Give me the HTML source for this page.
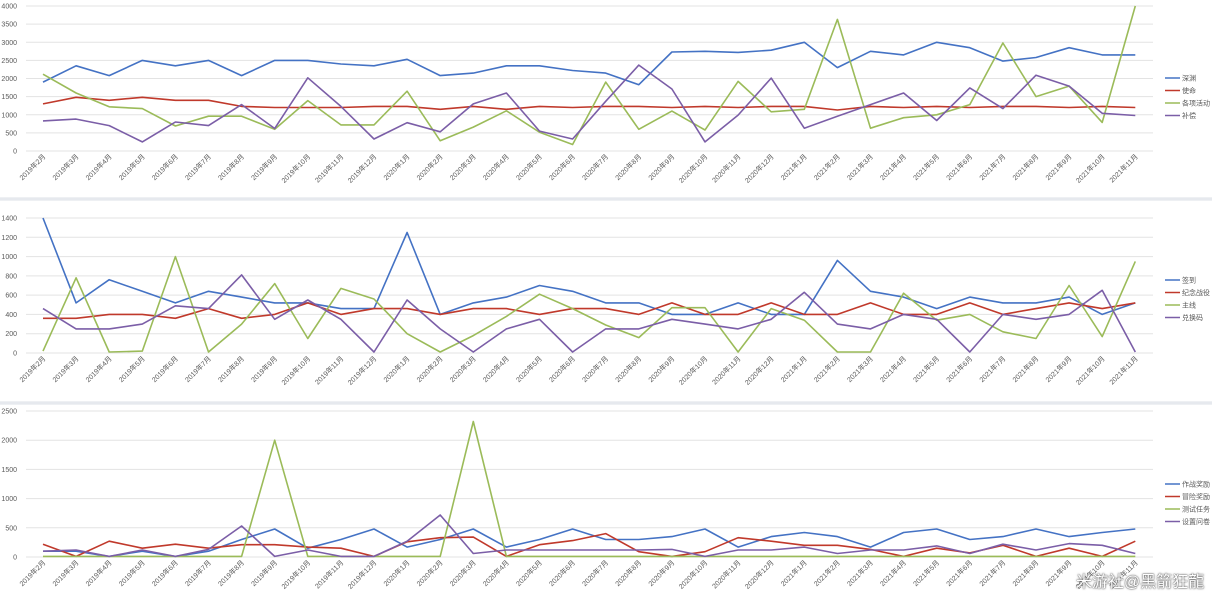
<!DOCTYPE html>
<html><head><meta charset="utf-8"><style>
body{margin:0;width:1212px;height:600px;background:#fff;overflow:hidden;font-family:"Liberation Sans","Noto Sans CJK SC",sans-serif}
svg{position:absolute;left:0;top:0}
.wm{position:absolute;left:1076px;top:568px;font-size:16px;color:#fff;text-shadow:0 0 2px #555,0 0 1px #333;font-family:"Liberation Sans","Noto Sans CJK SC",sans-serif}
</style></head><body>
<svg id="s" width="1212" height="600" xmlns="http://www.w3.org/2000/svg"></svg>
<div class="wm">米游社@黑箭狂龍</div>
<script>
const C=['#4472c4','#c0392b','#9bbb59','#7b5ea7'];
const charts=[
{top:6,bot:151,max:4000,step:500,leg:['深渊','使命','各项活动','补偿'],ly:78,data:[
[1900,2350,2080,2500,2350,2500,2080,2500,2500,2400,2350,2530,2080,2150,2350,2350,2220,2150,1830,2730,2750,2720,2780,3000,2300,2750,2650,3000,2850,2480,2580,2850,2650,2650],
[1300,1480,1400,1480,1400,1400,1230,1200,1200,1200,1230,1230,1150,1230,1150,1230,1200,1230,1230,1200,1230,1200,1230,1230,1130,1230,1200,1230,1200,1230,1230,1200,1230,1200],
[2120,1600,1220,1170,690,960,960,600,1390,720,720,1650,280,660,1110,520,180,1900,600,1100,580,1920,1080,1150,3630,630,920,1000,1280,2980,1500,1790,790,4000],
[830,880,700,250,800,700,1280,620,2020,1230,330,780,530,1300,1600,550,330,1370,2370,1710,250,990,2010,630,960,1280,1600,840,1740,1170,2090,1790,1040,980]]},
{top:218,bot:353,max:1400,step:200,leg:['签到','纪念战役','主线','兑换码'],ly:280,data:[
[1400,520,760,640,520,640,580,520,520,460,460,1250,400,520,580,700,640,520,520,400,400,520,400,400,960,640,580,460,580,520,520,580,400,520],
[360,360,400,400,360,460,360,400,520,400,460,460,400,460,460,400,460,460,400,520,400,400,520,400,400,520,400,400,520,400,460,520,460,520],
[20,780,10,20,1000,10,300,720,150,670,560,200,10,180,380,610,460,290,160,470,470,10,460,340,10,10,620,340,400,220,150,700,170,950],
[460,250,250,300,490,460,810,350,550,350,10,550,250,10,250,350,10,250,250,350,300,250,350,630,300,250,400,350,10,400,350,400,650,10]]},
{top:411,bot:557,max:2500,step:500,leg:['作战奖励','冒险奖励','测试任务','设置问卷'],ly:484,data:[
[100,100,10,100,10,100,300,480,150,300,480,170,300,480,170,300,480,300,300,350,480,170,350,420,350,170,420,480,300,350,480,350,420,480],
[220,10,270,150,220,150,210,210,170,150,10,260,330,340,10,210,280,400,90,10,90,330,270,200,200,130,10,150,70,200,10,150,10,270],
[10,10,10,10,10,10,10,2000,10,10,10,10,10,2320,10,10,10,10,10,10,10,10,10,10,10,10,10,10,10,10,10,10,10,10],
[100,120,10,120,10,130,530,10,120,10,10,270,720,60,120,120,120,120,120,130,10,120,120,170,60,120,120,190,60,220,120,230,200,60]]}];
let h='';
const X=i=>43+33.1*i;
const labels=[];for(let i=0;i<34;i++){let m=i+2,y=2019;while(m>12){m-=12;y++}labels.push(y+'年'+m+'月');}
charts.forEach(c=>{
 const Y=v=>c.bot-(c.bot-c.top)*v/c.max;
 for(let v=0;v<=c.max;v+=c.step){const y=Y(v).toFixed(1);h+=`<line x1="26" x2="1153" y1="${y}" y2="${y}" stroke="#e3e3e3" stroke-width="1"/><text x="17" y="${+y+2.5}" font-size="7" fill="#595959" text-anchor="end">${v}</text>`;}
 labels.forEach((l,i)=>{const x=X(i)+3,y=c.bot+6;h+=`<text x="${x}" y="${y}" font-size="7" fill="#595959" text-anchor="end" transform="rotate(-45 ${x} ${y})">${l}</text>`;});
 c.data.forEach((d,k)=>{h+=`<polyline fill="none" stroke="${C[k]}" stroke-width="1.6" stroke-linejoin="round" points="${d.map((v,i)=>X(i).toFixed(1)+','+Y(v).toFixed(1)).join(' ')}"/>`;});
 c.leg.forEach((t,k)=>{const y=c.ly+k*12.5;h+=`<line x1="1165" x2="1180" y1="${y}" y2="${y}" stroke="${C[k]}" stroke-width="1.5"/><text x="1182" y="${y+2.5}" font-size="7" fill="#595959">${t}</text>`;});
});
[199,403].forEach(y=>{h+=`<rect x="0" y="${y-2}" width="1212" height="4" fill="#eef0f3"/><line x1="0" x2="1212" y1="${y}" y2="${y}" stroke="#dde2e8"/>`;});
document.getElementById('s').innerHTML=h;
</script>
</body></html>
